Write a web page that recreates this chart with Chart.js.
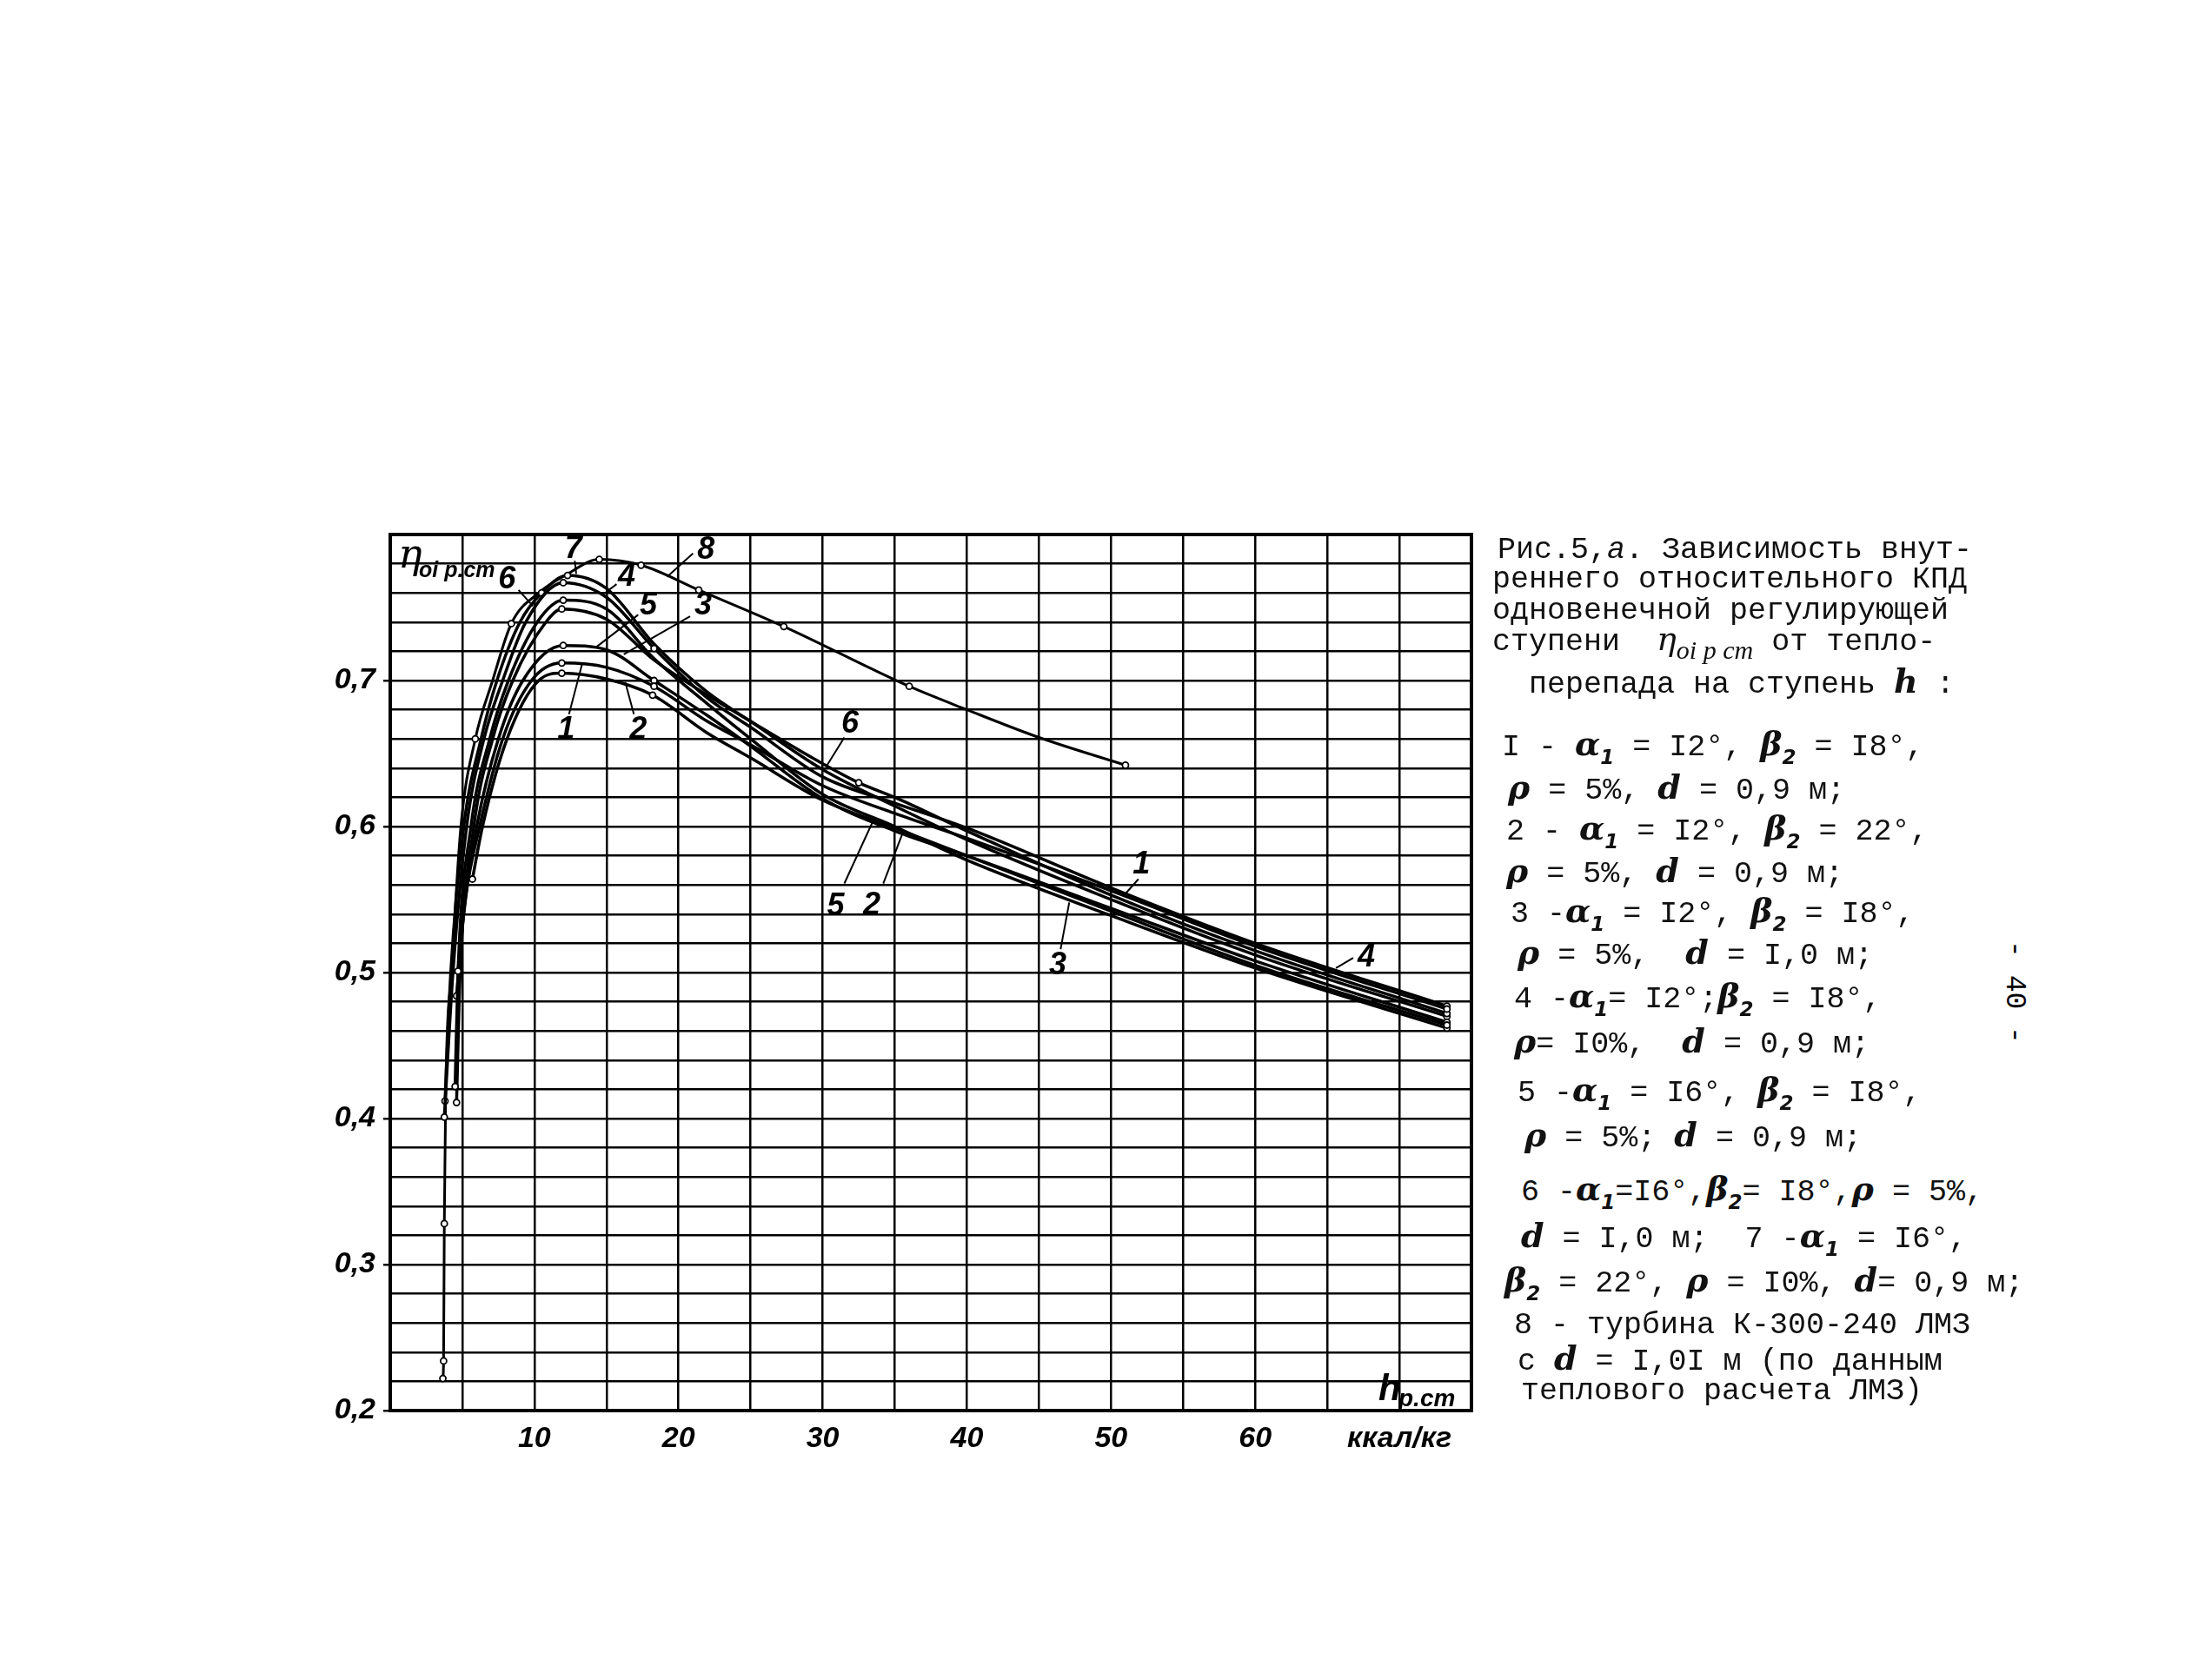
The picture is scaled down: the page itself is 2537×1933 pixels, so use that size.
<!DOCTYPE html>
<html lang="ru">
<head>
<meta charset="utf-8">
<title>Рис.5,а</title>
<script src="https://cdn.jsdelivr.net/npm/chart.js@4.4.1/dist/chart.umd.min.js"></script>
<style>
  html, body { margin: 0; padding: 0; background: #fff; }
  body { width: 2537px; height: 1933px; position: relative; overflow: hidden; }
  #box { position: absolute; left: 330px; top: 600px; width: 1420px; height: 1130px; }
  .cap { position: absolute; font-family: 'Liberation Mono', 'DejaVu Sans Mono', monospace; font-size: 35px; line-height: 35px; color: #111; white-space: pre; }
  .g { font-family: 'DejaVu Serif', 'Liberation Serif', serif; font-style: italic; font-weight: bold; font-size: 38px; }
  .cap sub { font-family: 'DejaVu Sans', sans-serif; font-style: italic; font-weight: bold; font-size: 23px; vertical-align: -10px; }
  .cap sub.t { font-family: 'Liberation Serif', serif; font-weight: normal; font-size: 30px; }
  #page { position: absolute; left: 2257px; top: 1123px; width: 120px; text-align: center; font-family: 'Liberation Mono', monospace; font-size: 33px; transform: rotate(90deg); }
</style>
</head>
<body>
<div id="box"><canvas id="chart" width="1420" height="1130"></canvas></div>

<div class="cap" style="left:1723px;top:616px">Рис.5,<i>а</i>. Зависимость внут-</div>
<div class="cap" style="left:1717px;top:650px">реннего относительного КПД</div>
<div class="cap" style="left:1717px;top:686px">одновенечной регулирующей</div>
<div class="cap" style="left:1717px;top:718px">ступени  <span class="g" style="font-weight:normal">η</span><sub class="t">oi p ст</sub> от тепло-</div>
<div class="cap" style="left:1759px;top:766px">перепада на ступень <span class="g">h</span> :</div>

<div class="cap" style="left:1728px;top:838px">I - <span class="g">α</span><sub>1</sub> = I2°, <span class="g">β</span><sub>2</sub> = I8°,</div>
<div class="cap" style="left:1735px;top:888px"><span class="g">ρ</span> = 5%, <span class="g">d</span> = 0,9 м;</div>
<div class="cap" style="left:1733px;top:935px">2 - <span class="g">α</span><sub>1</sub> = I2°, <span class="g">β</span><sub>2</sub> = 22°,</div>
<div class="cap" style="left:1733px;top:984px"><span class="g">ρ</span> = 5%, <span class="g">d</span> = 0,9 м;</div>
<div class="cap" style="left:1738px;top:1030px">3 -<span class="g">α</span><sub>1</sub> = I2°, <span class="g">β</span><sub>2</sub> = I8°,</div>
<div class="cap" style="left:1746px;top:1078px"><span class="g">ρ</span> = 5%,  <span class="g">d</span> = I,0 м;</div>
<div class="cap" style="left:1742px;top:1128px">4 -<span class="g">α</span><sub>1</sub>= I2°;<span class="g">β</span><sub>2</sub> = I8°,</div>
<div class="cap" style="left:1742px;top:1180px"><span class="g">ρ</span>= I0%,  <span class="g">d</span> = 0,9 м;</div>
<div class="cap" style="left:1746px;top:1236px">5 -<span class="g">α</span><sub>1</sub> = I6°, <span class="g">β</span><sub>2</sub> = I8°,</div>
<div class="cap" style="left:1754px;top:1288px"><span class="g">ρ</span> = 5%; <span class="g">d</span> = 0,9 м;</div>
<div class="cap" style="left:1750px;top:1350px">6 -<span class="g">α</span><sub>1</sub>=I6°,<span class="g">β</span><sub>2</sub>= I8°,<span class="g">ρ</span> = 5%,</div>
<div class="cap" style="left:1750px;top:1404px"><span class="g">d</span> = I,0 м;  7 -<span class="g">α</span><sub>1</sub> = I6°,</div>
<div class="cap" style="left:1731px;top:1455px"><span class="g">β</span><sub>2</sub> = 22°, <span class="g">ρ</span> = I0%, <span class="g">d</span>= 0,9 м;</div>
<div class="cap" style="left:1742px;top:1508px">8 - турбина К-300-240 ЛМЗ</div>
<div class="cap" style="left:1746px;top:1545px">с <span class="g">d</span> = I,0I м (по данным</div>
<div class="cap" style="left:1750px;top:1584px">теплового расчета ЛМЗ)</div>

<div id="page">- 40 -</div>

<script>
// heat drop h (ккал/кг) and stage efficiency for each curve
const h1 = [4.7, 5.2, 6.2, 7.8, 9.8, 11.9, 15.0, 18.3, 22.0, 25.0, 30.0, 35.0, 40.0, 50.0, 60.0, 73.3];
const eta1 = [0.501, 0.550, 0.600, 0.660, 0.700, 0.712, 0.709, 0.696, 0.672, 0.656, 0.628, 0.609, 0.592, 0.556, 0.518, 0.475];

const h2 = [5.7, 6.4, 8.1, 10.3, 11.9, 15.0, 18.2, 22.0, 25.0, 30.0, 35.0, 40.0, 50.0, 60.0, 73.3];
const eta2 = [0.564, 0.600, 0.660, 0.700, 0.705, 0.701, 0.690, 0.664, 0.647, 0.618, 0.599, 0.580, 0.542, 0.505, 0.464];

const h3 = [4.5, 4.7, 5.6, 6.9, 8.2, 10.2, 12.0, 15.0, 18.3, 22.0, 25.0, 30.0, 35.0, 40.0, 50.0, 60.0, 73.3];
const eta3 = [0.422, 0.500, 0.600, 0.660, 0.700, 0.740, 0.755, 0.749, 0.715, 0.684, 0.660, 0.622, 0.600, 0.577, 0.539, 0.503, 0.462];

const h4 = [3.75, 4.35, 5.3, 6.5, 7.8, 9.4, 12.0, 15.0, 18.3, 22.0, 25.0, 30.0, 35.0, 40.0, 50.0, 60.0, 73.3];
const eta4 = [0.401, 0.500, 0.600, 0.660, 0.700, 0.740, 0.767, 0.757, 0.722, 0.688, 0.668, 0.634, 0.616, 0.599, 0.558, 0.520, 0.477];

const h5 = [4.6, 5.1, 6.0, 7.5, 9.2, 12.0, 15.0, 18.3, 22.0, 25.0, 30.0, 35.0, 40.0, 50.0, 60.0, 73.3];
const eta5 = [0.484, 0.540, 0.600, 0.660, 0.700, 0.724, 0.721, 0.700, 0.676, 0.655, 0.619, 0.597, 0.580, 0.544, 0.508, 0.466];

const h6 = [4.6, 4.85, 5.8, 7.1, 8.5, 10.8, 11.9, 15.0, 18.3, 22.0, 25.0, 30.0, 32.5, 35.0, 40.0, 50.0, 60.0, 73.3];
const eta6 = [0.411, 0.500, 0.600, 0.660, 0.700, 0.740, 0.749, 0.742, 0.714, 0.690, 0.672, 0.643, 0.630, 0.620, 0.597, 0.553, 0.515, 0.472];

const h7 = [3.8, 4.2, 5.1, 6.3, 7.4, 9.0, 10.5, 12.3, 15.0, 18.3, 22.0, 25.0, 30.0, 35.0, 40.0, 50.0, 60.0, 73.3];
const eta7 = [0.412, 0.500, 0.600, 0.660, 0.700, 0.740, 0.760, 0.772, 0.763, 0.725, 0.692, 0.672, 0.639, 0.614, 0.591, 0.550, 0.512, 0.470];

const h8 = [3.65, 3.7, 3.75, 3.85, 4.25, 4.9, 5.9, 7.1, 8.4, 10.3, 12.3, 14.5, 17.4, 21.4, 27.3, 36.0, 40.0, 45.0, 51.0];
const eta8 = [0.222, 0.234, 0.328, 0.420, 0.500, 0.600, 0.660, 0.700, 0.739, 0.760, 0.773, 0.783, 0.779, 0.762, 0.737, 0.696, 0.680, 0.661, 0.642];

// h values where the figure shows a measured point (small circle)
const marks1 = [4.7, 11.9, 18.3, 73.3];
const marks2 = [5.7, 11.9, 18.2, 73.3];
const marks3 = [4.5, 12.0, 73.3];
const marks4 = [3.75, 12.0, 18.3, 73.3];
const marks5 = [4.6, 12.0, 18.3, 73.3];
const marks6 = [4.6, 11.9, 32.5, 73.3];
const marks7 = [3.8, 10.5, 12.3, 73.3];
const marks8 = [3.65, 3.7, 3.75, 5.9, 8.4, 14.5, 17.4, 21.4, 27.3, 36.0, 51.0];

const curves = [
  [h1, eta1, marks1], [h2, eta2, marks2], [h3, eta3, marks3], [h4, eta4, marks4],
  [h5, eta5, marks5], [h6, eta6, marks6], [h7, eta7, marks7], [h8, eta8, marks8]
];

// axis ticks
const xLabels = { 10: '10', 20: '20', 30: '30', 40: '40', 50: '50', 60: '60', 70: 'ккал/кг' };
const yLabeled = [0.2, 0.3, 0.4, 0.5, 0.6, 0.7];

// curve numbers: text, label position, leader line from -> to (data units)
const curveTags = [
  ['7', 12.7, 0.790, 12.8, 0.782, 12.9, 0.773],
  ['6', 8.1, 0.769, 8.9, 0.762, 9.9, 0.751],
  ['4', 16.4, 0.771, 15.7, 0.766, 14.9, 0.760],
  ['8', 21.9, 0.789, 21.0, 0.787, 19.2, 0.771],
  ['5', 17.9, 0.751, 17.2, 0.745, 14.3, 0.723],
  ['3', 21.7, 0.751, 20.8, 0.744, 16.2, 0.718],
  ['1', 12.2, 0.666, 12.4, 0.677, 13.3, 0.711],
  ['2', 17.2, 0.666, 16.9, 0.677, 16.3, 0.699],
  ['6', 31.9, 0.670, 31.5, 0.661, 30.3, 0.642],
  ['5', 30.9, 0.545, 31.5, 0.561, 33.5, 0.604],
  ['2', 33.4, 0.546, 34.2, 0.561, 35.6, 0.597],
  ['3', 46.3, 0.505, 46.5, 0.516, 47.1, 0.548],
  ['1', 52.1, 0.574, 51.9, 0.564, 51.0, 0.554],
  ['4', 67.7, 0.510, 66.8, 0.510, 65.6, 0.503]
];

const sansFam = '"Liberation Sans", Arimo, sans-serif';
const numFont = 'italic bold 36px ' + sansFam;
const isLabeledY = v => yLabeled.some(t => Math.abs(t - v) < 1e-6);

const annotate = {
  id: 'annotate',
  afterDatasetsDraw(chart) {
    const { ctx, chartArea: a, scales: { x, y } } = chart;
    ctx.save();
    ctx.strokeStyle = '#000';
    ctx.fillStyle = '#000';

    // curve numbers with leaders
    ctx.lineWidth = 2;
    ctx.font = numFont;
    ctx.textAlign = 'center';
    ctx.textBaseline = 'middle';
    curveTags.forEach(([t, lx, ly, x1, y1, x2, y2]) => {
      ctx.beginPath();
      ctx.moveTo(x.getPixelForValue(x1), y.getPixelForValue(y1));
      ctx.lineTo(x.getPixelForValue(x2), y.getPixelForValue(y2));
      ctx.stroke();
      ctx.fillText(t, x.getPixelForValue(lx), y.getPixelForValue(ly));
    });

    // frame
    ctx.lineWidth = 4;
    ctx.strokeRect(a.left, a.top, a.width, a.height);

    // axis names inside the plot
    ctx.textAlign = 'left';
    ctx.textBaseline = 'alphabetic';
    ctx.font = 'italic 46px "DejaVu Serif", "Liberation Serif", serif';
    ctx.fillText('η', a.left + 9, a.top + 38);
    ctx.font = 'italic bold 25px ' + sansFam;
    ctx.fillText('oi р.ст', a.left + 33, a.top + 49);

    ctx.font = 'italic bold 42px ' + sansFam;
    ctx.fillText('h', a.right - 107, a.bottom - 12);
    ctx.font = 'italic bold 28px ' + sansFam;
    ctx.fillText('р.ст', a.right - 84, a.bottom - 5);
    ctx.restore();
  }
};

document.addEventListener('DOMContentLoaded', () => {
  const tickFont = { family: sansFam, size: 34, style: 'italic', weight: 'bold' };

  new Chart(document.getElementById('chart'), {
    type: 'line',
    data: {
      datasets: curves.map(([hs, es, ms], i) => ({
        label: String(i + 1),
        data: hs.map((v, k) => ({ x: v, y: es[k] })),
        borderColor: '#000',
        borderWidth: i === 7 ? 3 : 3.5,
        pointRadius: c => ms.some(m => Math.abs(m - hs[c.dataIndex]) < 1e-6) ? 3.5 : 0,
        pointBorderWidth: 1.8,
        pointBackgroundColor: '#fff',
        pointBorderColor: '#000',
        cubicInterpolationMode: 'monotone',
        fill: false
      }))
    },
    options: {
      responsive: false,
      animation: false,
      devicePixelRatio: 1,
      layout: { padding: { top: 15, right: 57, left: 0, bottom: 0 } },
      plugins: { legend: { display: false }, tooltip: { enabled: false } },
      scales: {
        x: {
          type: 'linear',
          min: 0,
          max: 75,
          afterFit: s => { s.height = 107; s.paddingLeft = 0; s.paddingRight = 0; },
          border: { color: '#000', width: 4 },
          grid: { color: '#000', lineWidth: 2.5, drawTicks: false },
          ticks: {
            stepSize: 5,
            autoSkip: false,
            maxRotation: 0,
            padding: 12,
            color: '#000',
            font: tickFont,
            callback: v => xLabels[v] || ''
          }
        },
        y: {
          min: 0.2,
          max: 0.8,
          afterFit: s => { s.width = 119; s.paddingTop = 0; s.paddingBottom = 0; },
          border: { color: '#000', width: 4 },
          grid: {
            color: '#000',
            lineWidth: 2.5,
            tickLength: 8,
            tickColor: c => isLabeledY(c.tick.value) ? '#000' : 'rgba(0,0,0,0)'
          },
          ticks: {
            stepSize: 0.02,
            autoSkip: false,
            padding: 9,
            color: '#000',
            font: tickFont,
            callback: v => isLabeledY(v) ? v.toFixed(1).replace('.', ',') : ''
          }
        }
      }
    },
    plugins: [annotate]
  });
});
</script>
</body>
</html>
